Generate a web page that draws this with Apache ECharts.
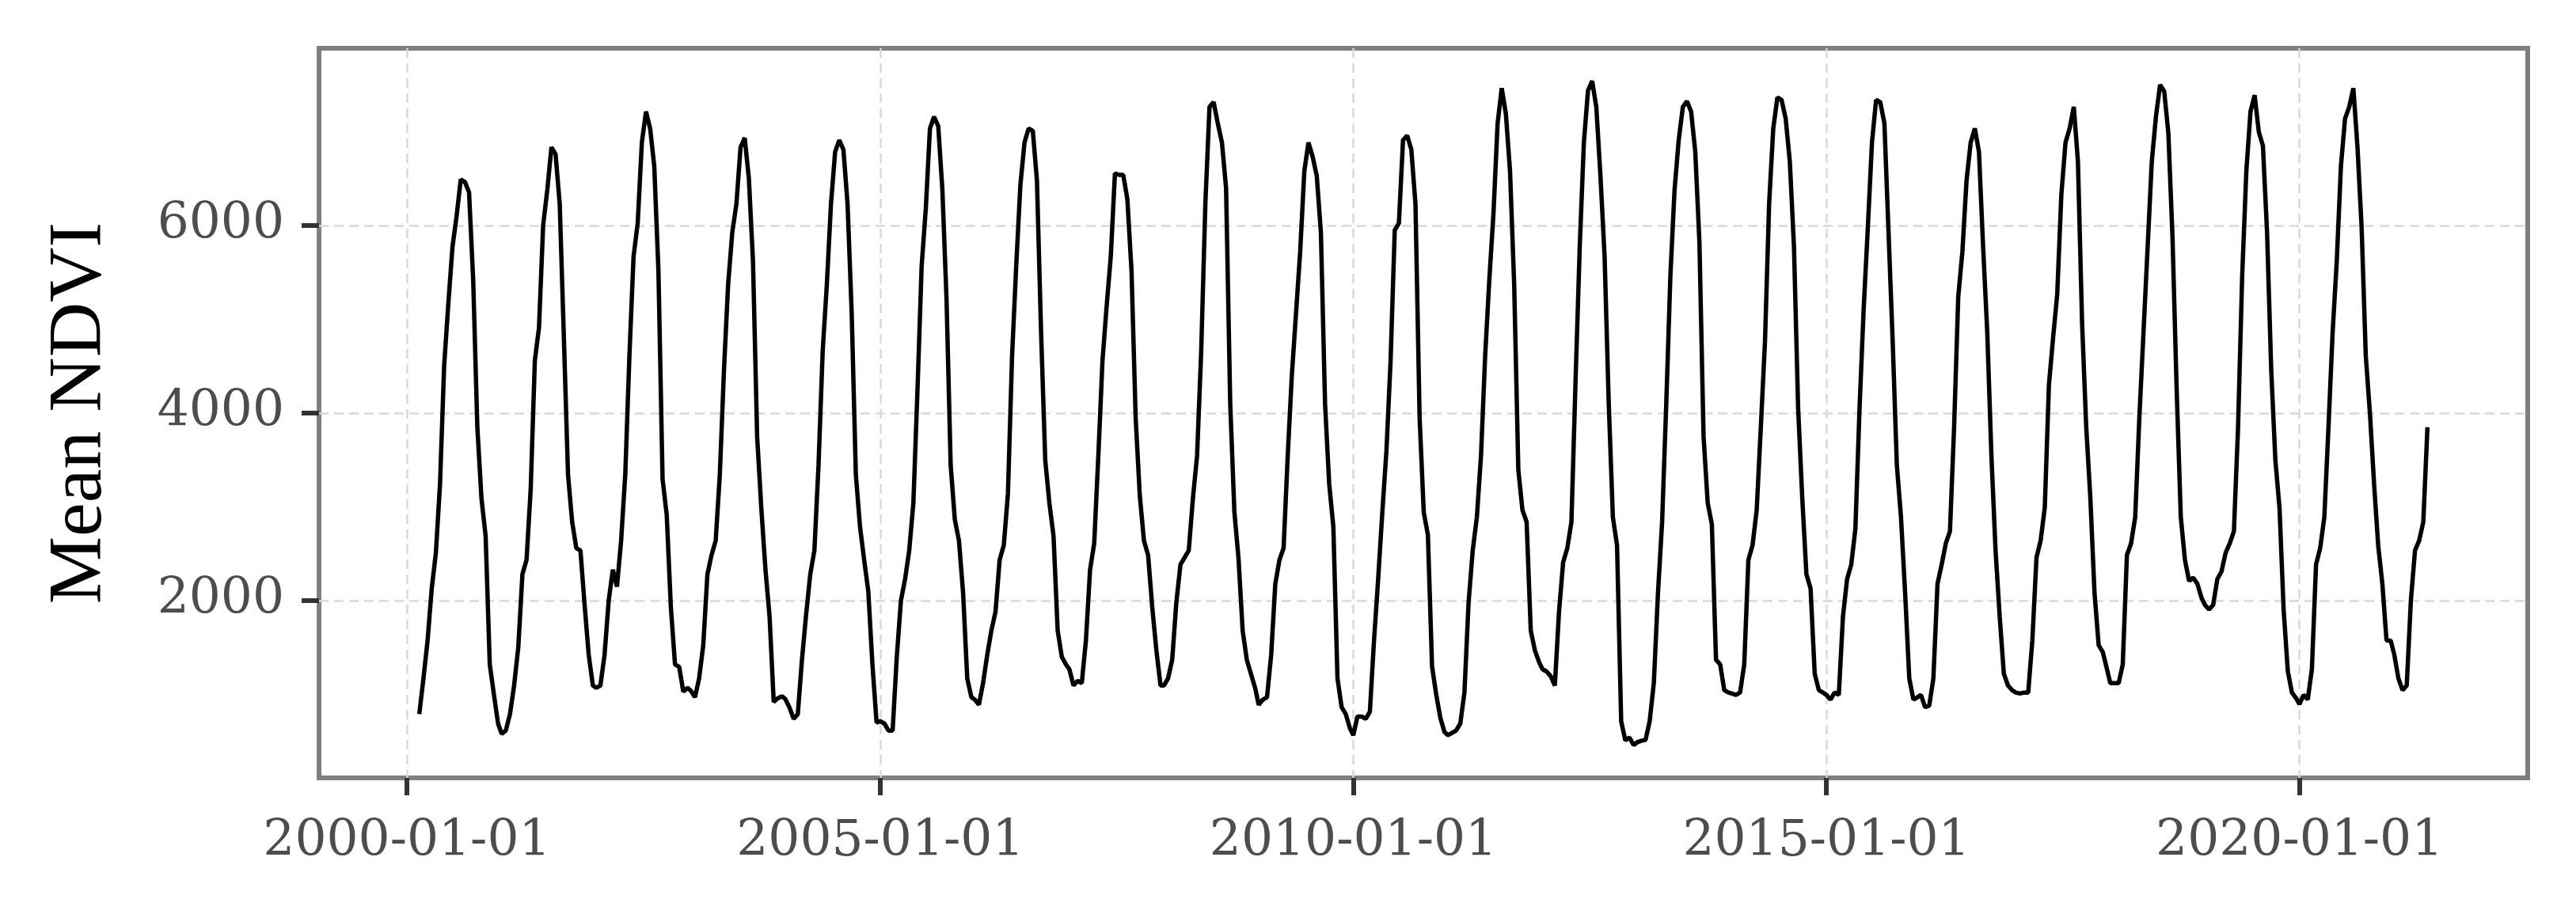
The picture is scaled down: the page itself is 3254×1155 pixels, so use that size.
<!DOCTYPE html>
<html>
<head>
<meta charset="utf-8">
<script src="https://cdn.jsdelivr.net/npm/echarts@6/dist/echarts.min.js"></script>
<style>
  html, body { margin: 0; padding: 0; background: #fff; }
  #chart { width: 3254px; height: 1155px; }
</style>
</head>
<body>
<div id="chart"></div>
<script>
// 16-day composites: day of year of each composite
const compositeDoy = [1, 17, 33, 49, 65, 81, 97, 113, 129, 145, 161, 177, 193, 209, 225, 241, 257, 273, 289, 305, 321, 337, 353];
const firstYear = 2000;
const firstSlot = 3; // series starts 2000-02-18

// mean NDVI, one row per year
const meanNdvi = [
  790, 1170, 1575, 2130, 2510, 3245, 4510, 5165, 5770, 6100, 6490, 6465, 6355, 5420, 3850, 3090, 2690, 1320, 1000, 690,
  580, 615, 790, 1095, 1500, 2280, 2435, 3190, 4560, 4910, 6000, 6380, 6835, 6760, 6230, 4810, 3345, 2840, 2560, 2535, 1955, 1420, 1095,
  1070, 1095, 1420, 2000, 2330, 2150, 2640, 3345, 4610, 5670, 6025, 6885, 7215, 7035, 6630, 5520, 3295, 2915, 1930, 1320, 1295, 1030, 1070,
  1040, 970, 1170, 1525, 2280, 2485, 2640, 3345, 4460, 5370, 5925, 6230, 6835, 6935, 6505, 5620, 3750, 2990, 2335, 1830, 920, 960, 980,
  950, 860, 740, 790, 1370, 1850, 2280, 2535, 3450, 4660, 5370, 6230, 6785, 6910, 6810, 6230, 5065, 3345, 2790, 2435, 2100, 1320, 700,
  715, 690, 615, 615, 1400, 2000, 2230, 2535, 3040, 4255, 5570, 6180, 7035, 7160, 7060, 6380, 5215, 3445, 2865, 2640, 2080, 1170, 970,
  945, 890, 1120, 1420, 1680, 1880, 2435, 2590, 3140, 4610, 5570, 6430, 6885, 7035, 7010, 6480, 4860, 3500, 3040, 2690, 1680, 1400, 1320,
  1270, 1095, 1145, 1120, 1575, 2330, 2610, 3550, 4560, 5140, 5670, 6555, 6540, 6540, 6280, 5520, 3950, 3120, 2640, 2485, 1930, 1470, 1095,
  1095, 1170, 1370, 1980, 2385, 2460, 2535, 3090, 3545, 4660, 6230, 7265, 7315, 7090, 6885, 6400, 4100, 2950, 2450, 1680, 1370, 1220, 1070,
  890, 945, 970, 1420, 2180, 2435, 2560, 3550, 4410, 5065, 5720, 6580, 6885, 6735, 6530, 5925, 4100, 3245, 2790, 1170, 865, 790, 640,
  565, 765, 765, 740, 815, 1575, 2230, 2940, 3600, 4560, 5950, 6025, 6910, 6960, 6810, 6230, 3950, 2940, 2700, 1300, 1000, 750, 600,
  565, 590, 615, 690, 1020, 1980, 2535, 2890, 3550, 4610, 5420, 6125, 7090, 7465, 7190, 6580, 5370, 3395, 2965, 2840, 1680, 1470, 1345,
  1270, 1245, 1195, 1095, 1880, 2410, 2560, 2840, 4355, 5770, 6885, 7440, 7540, 7265, 6530, 5670, 4100, 2890, 2590, 715, 510, 540, 460,
  490, 505, 515, 715, 1120, 2080, 2840, 4100, 5470, 6380, 6910, 7265, 7325, 7215, 6785, 5825, 3750, 3040, 2815, 1370, 1320, 1045, 1020,
  1010, 995, 1020, 1320, 2435, 2590, 2965, 3850, 4760, 6230, 7035, 7365, 7340, 7140, 6680, 5770, 4050, 3090, 2280, 2130, 1220, 1045, 1020,
  995, 945, 1020, 995, 1830, 2230, 2385, 2765, 4050, 5115, 5975, 6885, 7340, 7315, 7090, 5925, 4760, 3445, 2890, 2080, 1170, 945, 970,
  995, 865, 880, 1170, 2180, 2385, 2610, 2740, 3850, 5240, 5720, 6480, 6885, 7035, 6785, 5770, 4860, 3550, 2535, 1830, 1220, 1095, 1045,
  1020, 1010, 1020, 1020, 1575, 2460, 2640, 2990, 4300, 4800, 5265, 6330, 6885, 7035, 7265, 6680, 4960, 3850, 3090, 2080, 1525, 1450, 1270,
  1120, 1120, 1120, 1320, 2485, 2610, 2890, 3950, 4860, 5770, 6680, 7160, 7500, 7430, 6985, 5875, 4255, 2890, 2435, 2210, 2245, 2180, 2030,
  1955, 1905, 1955, 2230, 2310, 2510, 2610, 2740, 3850, 5470, 6580, 7215, 7390, 7000, 6850, 5925, 4460, 3500, 2990, 1900, 1250, 1020, 960,
  895, 995, 945, 1270, 2385, 2560, 2890, 3850, 4860, 5620, 6630, 7140, 7265, 7465, 6835, 5975, 4610, 4000, 3245, 2585, 2180, 1575, 1575,
  1425, 1170, 1045, 1095, 2000, 2535, 2640, 2840, 3850
];

const xTickDates = ['2000-01-01', '2005-01-01', '2010-01-01', '2015-01-01', '2020-01-01'];
const yTickValues = [2000, 4000, 6000];

// pair each value with its composite date (ms timestamps on a value axis)
const seriesData = meanNdvi.map((v, i) => {
    const slot = firstSlot + i;
    const year = firstYear + Math.floor(slot / compositeDoy.length);
    const doy = compositeDoy[slot % compositeDoy.length];
    return [Date.UTC(year, 0, doy), v];
});
const xTicks = xTickDates.map(d => Date.parse(d));

const labelFont = {
    fontFamily: 'DejaVu Serif',
    fontSize: 63,
    color: '#4d4d4d'
};
const gridLine = {
    show: true,
    lineStyle: { color: '#d9d9d9', width: 2.5, type: [12, 7] }
};

const chart = echarts.init(document.getElementById('chart'), null, { renderer: 'canvas' });
chart.setOption({
    animation: false,
    backgroundColor: '#ffffff',
    grid: {
        left: 403, right: 61, top: 61, bottom: 172,
        show: true,
        borderColor: '#7f7f7f',
        borderWidth: 6,
        backgroundColor: 'transparent'
    },
    xAxis: {
        type: 'value',
        min: Date.UTC(1999, 0, 27),
        max: Date.UTC(2022, 4, 31),
        axisLine: { show: false },
        axisTick: {
            show: true, length: 22, customValues: xTicks,
            lineStyle: { color: '#333333', width: 6 }
        },
        axisLabel: Object.assign({
            customValues: xTicks,
            margin: 50,
            formatter: v => new Date(v).toISOString().slice(0, 10)
        }, labelFont),
        splitLine: gridLine
    },
    yAxis: {
        type: 'value',
        min: 110,
        max: 7890,
        name: 'Mean NDVI',
        nameLocation: 'middle',
        nameGap: 253,
        nameTextStyle: { fontFamily: 'Liberation Serif', fontSize: 96, color: '#000000' },
        axisLine: { show: false },
        axisTick: {
            show: true, length: 22, customValues: yTickValues,
            lineStyle: { color: '#333333', width: 6 }
        },
        axisLabel: Object.assign({
            customValues: yTickValues,
            margin: 44,
            formatter: v => String(v)
        }, labelFont),
        splitLine: gridLine
    },
    series: [{
        type: 'line',
        data: seriesData,
        showSymbol: false,
        lineStyle: { color: '#000000', width: 5.5 }
    }]
});
</script>
</body>
</html>
